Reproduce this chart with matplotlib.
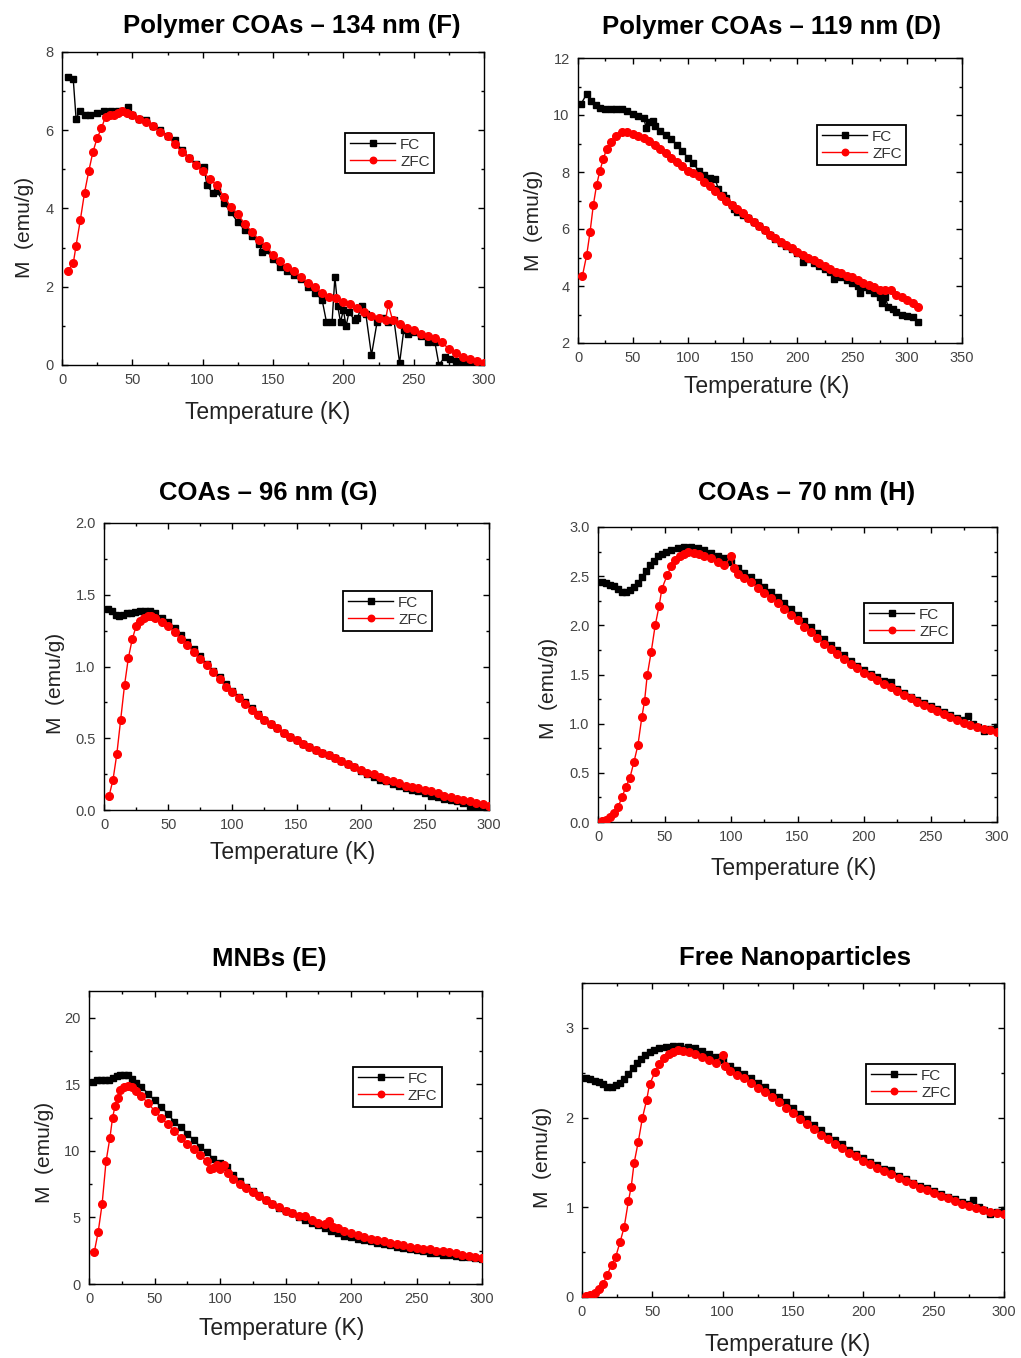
import matplotlib
matplotlib.use("Agg")
import matplotlib.pyplot as plt
from matplotlib.ticker import MultipleLocator

plt.rcParams["font.family"] = ["Liberation Sans", "DejaVu Sans"]

W, H = 1021, 1358

# ---- data ----
# Polymer COAs - 134 nm (F)
f_fc_t = [4, 8, 10, 13, 16, 20, 25, 30, 35, 40, 45, 47, 50, 55, 60, 65, 70, 75, 80, 85,
          90, 95, 100, 101, 103, 107, 110, 115, 120, 125, 130, 135, 140, 142, 145, 150, 155,
          160, 165, 170, 175, 180, 185, 188, 192, 194, 196, 198, 200, 202, 204, 208, 210,
          213, 216, 220, 224, 228, 232, 236, 240, 243, 246, 250, 255, 260, 265, 268, 272,
          276, 280, 285, 290, 295, 300]
f_fc_m = [7.35, 7.3, 6.3, 6.5, 6.4, 6.4, 6.45, 6.5, 6.5, 6.5, 6.5, 6.6, 6.4, 6.3, 6.25, 6.1,
          6.0, 5.85, 5.75, 5.5, 5.3, 5.15, 5.0, 5.05, 4.6, 4.4, 4.45, 4.15, 3.9, 3.65, 3.45,
          3.3, 3.1, 2.9, 2.95, 2.7, 2.5, 2.4, 2.3, 2.2, 2.0, 1.85, 1.65, 1.1, 1.1, 2.25, 1.5,
          1.1, 1.4, 1.0, 1.35, 1.15, 1.2, 1.5, 1.3, 0.25, 1.1, 1.2, 1.1, 1.15, 0.05, 0.9,
          0.8, 0.85, 0.75, 0.6, 0.6, 0.0, 0.2, 0.15, 0.1, 0.05, 0.02, 0.01, 0.0]
f_zfc_t = [4, 8, 10, 13, 16, 19, 22, 25, 28, 31, 34, 37, 40, 43, 46, 50, 55, 60, 65, 70, 75,
           80, 85, 90, 95, 100, 105, 110, 115, 120, 125, 130, 135, 140, 145, 150, 155, 160,
           165, 170, 175, 180, 185, 190, 195, 200, 205, 210, 215, 220, 225, 230, 232, 235,
           240, 245, 250, 255, 260, 265, 270, 275, 280, 285, 290, 295, 300]
f_zfc_m = [2.4, 2.6, 3.05, 3.7, 4.4, 4.95, 5.45, 5.8, 6.05, 6.35, 6.4, 6.4, 6.45, 6.5, 6.45,
           6.4, 6.3, 6.2, 6.1, 5.95, 5.85, 5.65, 5.45, 5.3, 5.1, 4.95, 4.75, 4.6, 4.3, 4.05,
           3.85, 3.6, 3.4, 3.2, 3.05, 2.8, 2.65, 2.5, 2.4, 2.25, 2.1, 2.0, 1.85, 1.75, 1.7,
           1.6, 1.55, 1.45, 1.35, 1.25, 1.2, 1.15, 1.55, 1.15, 1.05, 0.95, 0.9, 0.8, 0.75,
           0.7, 0.6, 0.4, 0.3, 0.2, 0.15, 0.1, 0.05]

# Polymer COAs - 119 nm (D)
d_fc_t = [3, 8, 12, 16, 20, 25, 30, 35, 40, 45, 50, 55, 60, 62, 65, 68, 70, 75, 80, 85, 90,
          95, 100, 105, 110, 115, 120, 125, 128, 132, 135, 140, 142, 145, 150, 155, 160, 165,
          170, 175, 180, 185, 190, 195, 200, 205, 210, 215, 220, 225, 230, 233, 236, 240,
          245, 250, 255, 257, 260, 265, 270, 275, 277, 280, 283, 287, 290, 295, 300, 305, 310]
d_fc_m = [10.4, 10.75, 10.5, 10.35, 10.25, 10.2, 10.2, 10.2, 10.2, 10.15, 10.05, 9.95, 9.9,
          9.55, 9.75, 9.8, 9.6, 9.45, 9.3, 9.15, 8.95, 8.75, 8.5, 8.3, 8.05, 7.9, 7.8, 7.75,
          7.4, 7.2, 7.1, 6.85, 6.7, 6.6, 6.5, 6.4, 6.25, 6.1, 5.95, 5.8, 5.65, 5.5, 5.4, 5.3,
          5.15, 4.85, 4.95, 4.8, 4.7, 4.6, 4.5, 4.25, 4.4, 4.3, 4.2, 4.1, 4.0, 3.75, 3.95,
          3.85, 3.75, 3.6, 3.4, 3.6, 3.25, 3.2, 3.1, 3.0, 2.95, 2.9, 2.75]
d_zfc_t = [4, 8, 11, 14, 17, 20, 23, 26, 30, 35, 40, 45, 50, 55, 60, 65, 70, 75, 80, 85, 90,
           95, 100, 105, 110, 115, 120, 125, 130, 135, 140, 145, 150, 155, 160, 165, 170,
           175, 180, 185, 190, 195, 200, 205, 210, 215, 220, 225, 230, 235, 240, 245, 250,
           255, 260, 265, 270, 275, 280, 285, 290, 295, 300, 305, 310]
d_zfc_m = [4.35, 5.1, 5.9, 6.85, 7.55, 8.05, 8.45, 8.8, 9.05, 9.25, 9.4, 9.4, 9.35, 9.25,
           9.2, 9.1, 8.95, 8.8, 8.65, 8.5, 8.35, 8.2, 8.05, 7.95, 7.85, 7.65, 7.5, 7.35, 7.15,
           7.0, 6.85, 6.7, 6.55, 6.4, 6.25, 6.1, 5.95, 5.8, 5.7, 5.55, 5.45, 5.35, 5.2, 5.1,
           5.0, 4.9, 4.8, 4.7, 4.6, 4.5, 4.45, 4.35, 4.3, 4.2, 4.1, 4.05, 3.95, 3.85, 3.85,
           3.85, 3.7, 3.6, 3.5, 3.4, 3.25]

# COAs - 96 nm (G)
g_fc_t = [3, 6, 9, 12, 15, 18, 21, 24, 28, 32, 36, 40, 45, 50, 55, 60, 65, 70, 75, 80, 85,
          90, 95, 100, 105, 110, 115, 120, 125, 130, 135, 140, 145, 150, 155, 160, 165, 170,
          175, 180, 185, 190, 195, 200, 205, 210, 215, 220, 225, 230, 235, 240, 245, 250,
          255, 260, 265, 270, 275, 280, 285, 290, 295, 300]
g_fc_m = [1.40, 1.39, 1.36, 1.35, 1.36, 1.37, 1.37, 1.38, 1.39, 1.39, 1.39, 1.37, 1.34, 1.31,
          1.27, 1.22, 1.17, 1.12, 1.07, 1.02, 0.97, 0.93, 0.88, 0.83, 0.79, 0.75, 0.71, 0.67,
          0.63, 0.60, 0.57, 0.54, 0.51, 0.49, 0.46, 0.44, 0.42, 0.40, 0.38, 0.36, 0.34, 0.32,
          0.30, 0.27, 0.25, 0.23, 0.21, 0.20, 0.18, 0.17, 0.15, 0.14, 0.13, 0.12, 0.10, 0.09,
          0.08, 0.07, 0.06, 0.05, 0.03, 0.02, 0.01, 0.0]
g_zfc_t = [4, 7, 10, 13, 16, 19, 22, 25, 28, 31, 34, 37, 40, 45, 50, 55, 60, 65, 70, 75, 80,
           85, 90, 95, 100, 105, 110, 115, 120, 125, 130, 135, 140, 145, 150, 155, 160, 165,
           170, 175, 180, 185, 190, 195, 200, 205, 210, 215, 220, 225, 230, 235, 240, 245,
           250, 255, 260, 265, 270, 275, 280, 285, 290, 295, 300]
g_zfc_m = [0.10, 0.21, 0.39, 0.63, 0.87, 1.06, 1.19, 1.28, 1.32, 1.34, 1.35, 1.35, 1.34, 1.31,
           1.28, 1.24, 1.19, 1.15, 1.10, 1.05, 1.01, 0.96, 0.91, 0.86, 0.82, 0.78, 0.74, 0.70,
           0.66, 0.63, 0.60, 0.57, 0.54, 0.51, 0.49, 0.46, 0.44, 0.42, 0.40, 0.38, 0.36, 0.34,
           0.32, 0.30, 0.28, 0.26, 0.25, 0.23, 0.21, 0.20, 0.19, 0.17, 0.16, 0.15, 0.14, 0.13,
           0.12, 0.10, 0.09, 0.08, 0.07, 0.06, 0.05, 0.04, 0.03]

# COAs - 70 nm (H); the free nanoparticle panel shows the same curves
h_fc_t = [3, 6, 9, 12, 15, 18, 21, 24, 27, 30, 33, 36, 39, 42, 45, 48, 51, 55, 60, 65, 70,
          75, 80, 85, 90, 95, 100, 105, 110, 115, 120, 125, 130, 135, 140, 145, 150, 155,
          160, 165, 170, 175, 180, 185, 190, 195, 200, 205, 210, 215, 220, 225, 230, 235,
          240, 245, 250, 255, 260, 265, 270, 275, 278, 282, 286, 290, 295, 300]
h_fc_m = [2.44, 2.43, 2.41, 2.40, 2.37, 2.34, 2.34, 2.36, 2.39, 2.43, 2.49, 2.55, 2.61, 2.65,
          2.70, 2.73, 2.75, 2.77, 2.79, 2.80, 2.80, 2.79, 2.77, 2.74, 2.71, 2.68, 2.64, 2.58,
          2.53, 2.49, 2.44, 2.39, 2.34, 2.29, 2.23, 2.17, 2.11, 2.04, 1.98, 1.92, 1.86, 1.80,
          1.75, 1.70, 1.64, 1.59, 1.55, 1.51, 1.47, 1.43, 1.42, 1.35, 1.31, 1.27, 1.24, 1.21,
          1.18, 1.15, 1.12, 1.09, 1.06, 1.04, 1.08, 1.00, 0.97, 0.93, 0.95, 0.97]
h_zfc_t = [3, 6, 9, 12, 15, 18, 21, 24, 27, 30, 33, 35, 37, 40, 43, 46, 48, 52, 55, 58, 62,
           65, 68, 72, 76, 80, 85, 90, 95, 100, 102, 105, 110, 115, 120, 125, 130, 135, 140,
           145, 150, 155, 160, 165, 170, 175, 180, 185, 190, 195, 200, 205, 210, 215, 220,
           225, 230, 235, 240, 245, 250, 255, 260, 265, 270, 275, 280, 285, 290, 295, 300]
h_zfc_m = [0.01, 0.02, 0.05, 0.09, 0.15, 0.25, 0.36, 0.45, 0.61, 0.78, 1.07, 1.23, 1.49, 1.73,
           2.00, 2.20, 2.37, 2.51, 2.60, 2.66, 2.71, 2.73, 2.75, 2.74, 2.73, 2.71, 2.68, 2.64,
           2.61, 2.70, 2.58, 2.52, 2.48, 2.44, 2.38, 2.33, 2.28, 2.23, 2.17, 2.11, 2.05, 1.98,
           1.93, 1.87, 1.81, 1.76, 1.71, 1.66, 1.61, 1.57, 1.52, 1.48, 1.44, 1.40, 1.37, 1.33,
           1.29, 1.26, 1.22, 1.19, 1.16, 1.13, 1.10, 1.07, 1.04, 1.01, 0.99, 0.97, 0.95, 0.94,
           0.92]

# MNBs (E)
e_fc_t = [3, 6, 9, 12, 15, 18, 21, 24, 27, 30, 33, 36, 40, 45, 50, 55, 60, 65, 70, 75, 80,
          85, 90, 95, 100, 105, 110, 115, 120, 125, 130, 135, 140, 145, 150, 155, 160, 165,
          170, 175, 180, 185, 190, 195, 200, 205, 210, 215, 220, 225, 230, 235, 240, 245,
          250, 255, 260, 265, 270, 275, 280, 285, 290, 295, 300]
e_fc_m = [15.2, 15.3, 15.35, 15.3, 15.3, 15.5, 15.6, 15.7, 15.7, 15.7, 15.4, 15.1, 14.8, 14.3,
          13.8, 13.3, 12.8, 12.2, 11.8, 11.3, 10.8, 10.3, 9.9, 9.4, 9.1, 8.8, 8.2, 7.7, 7.3,
          7.0, 6.7, 6.3, 6.0, 5.7, 5.5, 5.3, 5.0, 4.8, 4.6, 4.4, 4.2, 4.0, 3.8, 3.6, 3.5, 3.4,
          3.3, 3.2, 3.1, 3.0, 2.9, 2.8, 2.7, 2.6, 2.55, 2.45, 2.35, 2.3, 2.2, 2.15, 2.1, 2.05,
          2.0, 1.95, 1.9]
e_zfc_t = [4, 7, 10, 13, 16, 18, 20, 22, 24, 27, 30, 33, 36, 40, 45, 50, 55, 60, 65, 70, 75,
           80, 85, 90, 92, 95, 98, 100, 103, 106, 110, 115, 120, 125, 130, 135, 140, 145, 150,
           155, 160, 165, 170, 175, 180, 183, 186, 190, 195, 200, 205, 210, 215, 220, 225,
           230, 235, 240, 245, 250, 255, 260, 265, 270, 275, 280, 285, 290, 295, 300]
e_zfc_m = [2.4, 3.9, 6.0, 9.2, 11.0, 12.5, 13.4, 14.0, 14.6, 14.8, 14.9, 14.8, 14.5, 14.1,
           13.6, 13.0, 12.5, 12.0, 11.5, 11.0, 10.5, 10.1, 9.7, 9.2, 8.6, 8.7, 8.9, 8.6, 8.9,
           8.3, 7.9, 7.5, 7.2, 6.9, 6.6, 6.3, 6.0, 5.8, 5.5, 5.3, 5.1, 5.1, 4.8, 4.6, 4.5, 4.7,
           4.3, 4.2, 4.0, 3.8, 3.7, 3.5, 3.4, 3.3, 3.2, 3.1, 3.0, 2.9, 2.8, 2.7, 2.65, 2.6,
           2.5, 2.45, 2.4, 2.3, 2.2, 2.1, 2.0, 1.95]

TITLES = ["Polymer COAs \u2013 134 nm (F)", "Polymer COAs \u2013 119 nm (D)",
          "COAs \u2013 96 nm (G)", "COAs \u2013 70 nm (H)",
          "MNBs (E)", "Free Nanoparticles"]

# ---- layout (pixel boxes: left, top, right, bottom) ----
panels = [
    dict(box=(62, 52, 484, 365), xlim=(0, 300), ylim=(0, 8), ymaj=2, ymin=1, xmaj=50,
         data=(f_fc_t, f_fc_m, f_zfc_t, f_zfc_m), title_xy=(292, 26),
         xlab_xy=(268, 413), ylab_xy=(24, 227), leg=(345, 133)),
    dict(box=(578, 58, 962, 343), xlim=(0, 350), ylim=(2, 12), ymaj=2, ymin=1, xmaj=50,
         data=(d_fc_t, d_fc_m, d_zfc_t, d_zfc_m), title_xy=(771, 27),
         xlab_xy=(767, 386), ylab_xy=(533, 220), leg=(817, 125)),
    dict(box=(104, 523, 489, 810), xlim=(0, 300), ylim=(0, 2), ymaj=0.5, ymin=0.25, xmaj=50,
         data=(g_fc_t, g_fc_m, g_zfc_t, g_zfc_m), title_xy=(268, 493),
         xlab_xy=(293, 853), ylab_xy=(55, 683), leg=(343, 591)),
    dict(box=(598, 527, 997, 822), xlim=(0, 300), ylim=(0, 3), ymaj=0.5, ymin=0.25, xmaj=50,
         data=(h_fc_t, h_fc_m, h_zfc_t, h_zfc_m), title_xy=(807, 493),
         xlab_xy=(794, 868), ylab_xy=(548, 688), leg=(864, 603)),
    dict(box=(89, 991, 482, 1284), xlim=(0, 300), ylim=(0, 22), ymaj=5, ymin=2.5, xmaj=50,
         data=(e_fc_t, e_fc_m, e_zfc_t, e_zfc_m), title_xy=(269, 959),
         xlab_xy=(282, 1328), ylab_xy=(44, 1152), leg=(353, 1067)),
    dict(box=(582, 983, 1004, 1297), xlim=(0, 300), ylim=(0, 3.5), ymaj=1, ymin=0.5, xmaj=50,
         data=(h_fc_t, h_fc_m, h_zfc_t, h_zfc_m), title_xy=(795, 958),
         xlab_xy=(788, 1345), ylab_xy=(543, 1157), leg=(866, 1064)),
]

TICK_GREY = "#444444"

fig = plt.figure(figsize=(W / 100, H / 100), dpi=100)

for p, title in zip(panels, TITLES):
    l, t, r, b = p["box"]
    ax = fig.add_axes([l / W, 1 - b / H, (r - l) / W, (b - t) / H])
    fc_t, fc_m, zfc_t, zfc_m = p["data"]
    ax.plot(fc_t, fc_m, color="black", lw=1.0, marker="s", ms=4.5, label="FC", zorder=2)
    ax.plot(zfc_t, zfc_m, color="#ff0000", lw=1.0, marker="o", ms=5.5, label="ZFC", zorder=3)

    ax.set_xlim(*p["xlim"])
    ax.set_ylim(*p["ylim"])
    ax.xaxis.set_major_locator(MultipleLocator(p["xmaj"]))
    ax.xaxis.set_minor_locator(MultipleLocator(p["xmaj"] / 2))
    ax.yaxis.set_major_locator(MultipleLocator(p["ymaj"]))
    ax.yaxis.set_minor_locator(MultipleLocator(p["ymin"]))
    ax.tick_params(which="both", direction="in", top=True, right=True,
                   labelsize=10.5, labelcolor=TICK_GREY, width=1.0, pad=6)
    ax.tick_params(which="major", length=4)
    ax.tick_params(which="minor", length=2.5)
    for s in ax.spines.values():
        s.set_linewidth(1.0)

    tx, ty = p["title_xy"]
    fig.text(tx / W, 1 - ty / H, title, ha="center", va="center",
             fontsize=18.5, fontweight="bold")
    ax.set_xlabel("Temperature (K)", fontsize=16.5, color="#222222")
    ax.set_ylabel("M  (emu/g)", fontsize=15, color="#222222")
    xx, xy = p["xlab_xy"]
    yx, yy = p["ylab_xy"]
    ax.xaxis.set_label_coords((xx - l) / (r - l), (b - xy) / (b - t))
    ax.yaxis.set_label_coords((yx - l) / (r - l), (b - yy) / (b - t))
    ax.xaxis.label.set_va("center")
    ax.yaxis.label.set_va("center")

    lx, ly = p["leg"]
    leg = ax.legend(loc="upper left", bbox_to_anchor=(lx / W, 1 - ly / H),
                    bbox_transform=fig.transFigure, borderaxespad=0,
                    fontsize=11, fancybox=False, framealpha=1, edgecolor="black",
                    handlelength=3.0, handletextpad=0.3, borderpad=0.3,
                    labelspacing=0.2, markerscale=0.85)
    leg.get_frame().set_linewidth(1.3)
    for txt in leg.get_texts():
        txt.set_color("#333333")

fig.savefig("out.png", dpi=100)
